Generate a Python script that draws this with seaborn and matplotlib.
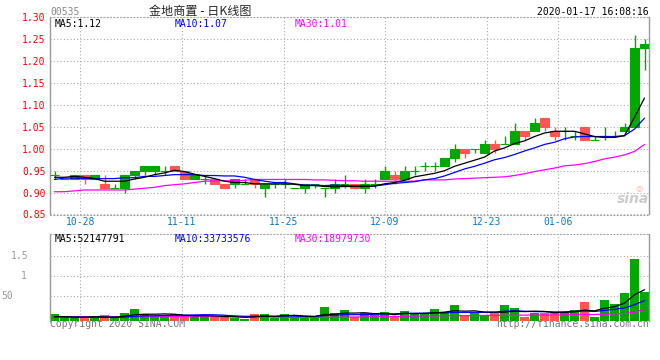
import numpy as np
import pandas as pd
import matplotlib
matplotlib.use('Agg')
import matplotlib.pyplot as plt
import seaborn as sns

# daily K-line, 60 trading days up to 2020-01-17
opens = [0.94, 0.93, 0.93, 0.94, 0.93, 0.92, 0.91, 0.91, 0.94, 0.95,
         0.95, 0.95, 0.96, 0.95, 0.93, 0.93, 0.93, 0.92, 0.92, 0.92,
         0.93, 0.91, 0.92, 0.92, 0.91, 0.91, 0.92, 0.91, 0.91, 0.92,
         0.92, 0.91, 0.92, 0.93, 0.94, 0.93, 0.95, 0.96, 0.96, 0.96,
         0.98, 1.00, 1.00, 0.99, 1.01, 1.01, 1.01, 1.04, 1.04, 1.07,
         1.04, 1.04, 1.03, 1.05, 1.02, 1.03, 1.03, 1.04, 1.05, 1.23]
highs = [0.95, 0.93, 0.94, 0.94, 0.94, 0.94, 0.92, 0.94, 0.95, 0.96,
         0.96, 0.96, 0.96, 0.95, 0.94, 0.94, 0.93, 0.92, 0.93, 0.93,
         0.93, 0.92, 0.92, 0.93, 0.91, 0.92, 0.92, 0.91, 0.93, 0.94,
         0.92, 0.93, 0.93, 0.96, 0.95, 0.96, 0.96, 0.97, 0.97, 0.98,
         1.01, 1.00, 1.00, 1.02, 1.02, 1.03, 1.06, 1.04, 1.07, 1.07,
         1.05, 1.05, 1.04, 1.05, 1.03, 1.05, 1.04, 1.06, 1.26, 1.25]
lows = [0.93, 0.93, 0.93, 0.92, 0.93, 0.91, 0.91, 0.90, 0.93, 0.94,
        0.94, 0.94, 0.95, 0.93, 0.93, 0.92, 0.92, 0.91, 0.91, 0.92,
        0.91, 0.89, 0.91, 0.91, 0.91, 0.90, 0.91, 0.89, 0.90, 0.91,
        0.91, 0.90, 0.91, 0.93, 0.92, 0.93, 0.94, 0.95, 0.95, 0.96,
        0.97, 0.98, 0.99, 0.99, 0.99, 1.01, 1.01, 1.02, 1.04, 1.04,
        1.02, 1.02, 1.02, 1.02, 1.02, 1.02, 1.03, 1.04, 1.05, 1.18]
closes = [0.94, 0.93, 0.94, 0.93, 0.94, 0.91, 0.91, 0.94, 0.95, 0.96,
          0.96, 0.95, 0.95, 0.93, 0.94, 0.93, 0.92, 0.91, 0.93, 0.92,
          0.92, 0.92, 0.92, 0.92, 0.91, 0.92, 0.92, 0.91, 0.92, 0.92,
          0.91, 0.92, 0.92, 0.95, 0.93, 0.95, 0.95, 0.96, 0.96, 0.98,
          1.00, 0.99, 1.00, 1.01, 1.00, 1.01, 1.04, 1.03, 1.06, 1.05,
          1.03, 1.04, 1.03, 1.02, 1.02, 1.03, 1.03, 1.05, 1.23, 1.24]

ma5 = [0.935, 0.935, 0.937, 0.935, 0.932, 0.926, 0.926, 0.926, 0.931, 0.935,
       0.941, 0.945, 0.951, 0.948, 0.942, 0.937, 0.932, 0.926, 0.923, 0.923,
       0.920, 0.920, 0.920, 0.920, 0.919, 0.916, 0.916, 0.914, 0.913, 0.914,
       0.914, 0.914, 0.915, 0.920, 0.923, 0.928, 0.936, 0.940, 0.944, 0.950,
       0.960, 0.967, 0.974, 0.981, 0.995, 1.002, 1.012, 1.018, 1.028, 1.036,
       1.040, 1.040, 1.040, 1.034, 1.028, 1.026, 1.026, 1.030, 1.072, 1.116]
ma10 = [0.930, 0.933, 0.933, 0.932, 0.932, 0.932, 0.932, 0.934, 0.934, 0.937,
        0.937, 0.939, 0.941, 0.941, 0.941, 0.939, 0.939, 0.938, 0.938, 0.935,
        0.930, 0.926, 0.923, 0.923, 0.920, 0.917, 0.917, 0.916, 0.917, 0.916,
        0.915, 0.915, 0.915, 0.918, 0.921, 0.923, 0.925, 0.929, 0.932, 0.938,
        0.946, 0.954, 0.960, 0.967, 0.975, 0.980, 0.987, 0.995, 1.002, 1.010,
        1.015, 1.023, 1.027, 1.028, 1.028, 1.028, 1.028, 1.030, 1.045, 1.070]
ma30 = [0.902, 0.902, 0.904, 0.906, 0.906, 0.906, 0.906, 0.906, 0.908, 0.910,
        0.912, 0.916, 0.918, 0.920, 0.923, 0.926, 0.927, 0.927, 0.927, 0.928,
        0.930, 0.930, 0.930, 0.930, 0.930, 0.930, 0.929, 0.929, 0.928, 0.927,
        0.927, 0.926, 0.926, 0.926, 0.926, 0.926, 0.926, 0.929, 0.929, 0.929,
        0.931, 0.932, 0.933, 0.934, 0.935, 0.936, 0.939, 0.943, 0.948, 0.952,
        0.956, 0.961, 0.963, 0.966, 0.971, 0.977, 0.981, 0.986, 0.994, 1.010]

# volume, millions of shares
volume = [11.3, 6.2, 5.0, 3.9, 6.2, 9.6, 5.0, 12.9, 19.7, 11.3,
          7.9, 7.9, 11.3, 6.7, 9.6, 6.7, 6.7, 6.7, 5.0, 2.9,
          11.3, 11.3, 5.0, 11.3, 6.7, 5.0, 5.0, 23.0, 12.9, 18.0,
          6.2, 12.3, 9.6, 14.6, 8.4, 16.3, 10.6, 11.3, 19.7, 14.6,
          26.4, 9.6, 12.9, 9.6, 12.9, 26.4, 21.3, 6.2, 12.3, 12.3,
          12.3, 14.6, 18.0, 31.4, 6.2, 34.8, 28.1, 46.5, 103.7, 48.2]
vol_ma5 = [6.7, 6.7, 5.9, 5.9, 6.6, 6.2, 5.9, 7.6, 10.1, 10.9,
           10.9, 11.4, 10.9, 9.1, 8.4, 8.4, 7.9, 7.2, 6.7, 5.7,
           6.4, 7.6, 7.1, 8.4, 9.1, 7.9, 7.2, 10.2, 10.8, 12.8,
           12.8, 13.4, 11.8, 12.1, 10.2, 12.3, 11.8, 12.3, 13.3, 14.4,
           16.8, 16.0, 16.6, 14.6, 14.3, 14.3, 16.0, 15.3, 16.0, 15.6,
           13.4, 14.1, 15.0, 17.8, 16.5, 21.0, 23.5, 29.4, 43.7, 52.1]
vol_ma10 = [6.7, 6.7, 6.2, 5.9, 5.9, 5.7, 5.7, 6.0, 7.2, 8.1,
            8.4, 8.7, 9.2, 9.2, 9.7, 10.1, 9.9, 9.2, 8.1, 7.4,
            7.6, 7.7, 7.4, 7.9, 7.6, 7.1, 6.9, 8.7, 9.1, 10.1,
            10.1, 10.2, 10.8, 11.3, 11.6, 12.3, 12.6, 12.6, 12.8, 12.9,
            13.9, 13.9, 14.1, 13.9, 14.3, 16.0, 16.6, 15.8, 15.3, 15.1,
            14.8, 14.8, 15.8, 16.3, 15.5, 17.3, 19.2, 21.2, 27.0, 33.7]
vol_ma30 = [6.7, 6.7, 6.7, 6.7, 6.7, 6.7, 6.7, 6.7, 6.7, 6.7,
            6.7, 6.7, 6.9, 6.9, 6.9, 6.9, 6.9, 6.7, 6.7, 6.7,
            6.4, 6.2, 6.0, 5.9, 5.9, 5.7, 5.7, 5.7, 5.9, 6.0,
            6.2, 6.4, 6.7, 6.9, 7.2, 7.4, 7.7, 7.9, 8.1, 8.4,
            8.4, 8.6, 8.6, 8.9, 8.9, 9.2, 9.2, 9.4, 9.6, 9.6,
            9.6, 9.9, 10.1, 10.4, 10.4, 10.9, 11.4, 12.1, 14.3, 19.0]

date_idx = [3, 13, 23, 33, 43, 50]
date_labels = ['10-28', '11-11', '11-25', '12-09', '12-23', '01-06']
price_ticks = [0.85, 0.90, 0.95, 1.00, 1.05, 1.10, 1.15, 1.20, 1.25, 1.30]
vol_ticks = [42.0, 75.6, 109.2]
vol_tick_labels = ['50', '1', '1.5']

GREEN = '#00A800'
RED = '#FF5555'
GRID = '#aaaaaa'
DOT = (0, (1, 2))

df = pd.DataFrame({'i': np.arange(len(closes)), 'open': opens, 'high': highs,
                   'low': lows, 'close': closes, 'vol': volume})
df['dir'] = np.where(df['close'] >= df['open'], 'up', 'down')
df['color'] = np.where(df['dir'] == 'up', GREEN, RED)

sns.set_style('white')
plt.rcParams['font.family'] = ['DejaVu Sans Mono', 'Noto Sans CJK SC']

W, H = 660, 360
fig = plt.figure(figsize=(W / 100, H / 100), dpi=100)


def box(x0, y0, x1, y1):
    return [x0 / W, 1 - y1 / H, (x1 - x0) / W, (y1 - y0) / H]


def ftext(x, y, s, **kw):
    kw.setdefault('va', 'center')
    kw.setdefault('fontsize', 7)
    fig.text(x / W, 1 - y / H, s, **kw)


ax = fig.add_axes(box(50, 17.4, 649, 214.5))
axv = fig.add_axes(box(50, 234.3, 649, 320.7))

# candles
ax.vlines(df['i'], df['low'], df['high'], colors=df['color'], linewidth=1, zorder=2)
ax.bar(df['i'], df['close'] - df['open'], bottom=df['open'], width=0.9,
       color=df['color'], edgecolor=df['color'], linewidth=0.8, zorder=3)

sns.lineplot(x=df['i'], y=ma30, color='#FF00FF', linewidth=0.9, ax=ax, zorder=4)
sns.lineplot(x=df['i'], y=ma10, color='#0000FF', linewidth=0.9, ax=ax, zorder=4)
sns.lineplot(x=df['i'], y=ma5, color='black', linewidth=0.9, ax=ax, zorder=5)

# volume
sns.barplot(data=df, x='i', y='vol', hue='dir', palette={'up': GREEN, 'down': RED},
            dodge=False, width=0.9, saturation=1, legend=False, native_scale=True,
            errorbar=None, linewidth=0, ax=axv, zorder=2)
sns.lineplot(x=df['i'], y=vol_ma30, color='#FF00FF', linewidth=0.9, ax=axv, zorder=4)
sns.lineplot(x=df['i'], y=vol_ma10, color='#0000FF', linewidth=0.9, ax=axv, zorder=4)
sns.lineplot(x=df['i'], y=vol_ma5, color='black', linewidth=0.9, ax=axv, zorder=5)

# date gridlines sit on a slightly wider scale than the bars
grid_pos = [i * 59.9 / 59 - 0.45 for i in date_idx]

for a in (ax, axv):
    a.set_xlim(-0.45, 59.45)
    a.set_xlabel('')
    a.set_ylabel('')
    a.grid(True, color=GRID, linestyle=DOT, linewidth=0.8)
    a.set_axisbelow(True)
    for s in ('left', 'right'):
        a.spines[s].set_color('#999999')
        a.spines[s].set_linewidth(1)
    a.spines['top'].set_color(GRID)
    a.spines['top'].set_linestyle(DOT)
    a.spines['top'].set_linewidth(0.8)

ax.spines['bottom'].set_color(GRID)
ax.spines['bottom'].set_linestyle(DOT)
ax.spines['bottom'].set_linewidth(0.8)
axv.spines['bottom'].set_visible(False)

ax.set_ylim(0.85, 1.30)
ax.set_yticks(price_ticks, [f'{v:.2f}' for v in price_ticks])
ax.set_xticks(grid_pos, date_labels)
ax.tick_params(axis='y', length=0, pad=3, labelcolor='red', labelsize=7)
ax.tick_params(axis='x', length=0, pad=2, labelcolor='#0A78C8', labelsize=7)

axv.set_ylim(0, 145.2)
axv.set_yticks(vol_ticks, [''] * len(vol_ticks))
axv.set_xticks(grid_pos, [''] * len(grid_pos))
axv.tick_params(length=0)

# header texts
ftext(50, 12, '00535', color='#888888', ha='left')
ftext(200, 12, '金地商置 - 日K线图', family=['Noto Sans CJK SC', 'DejaVu Sans'],
      fontsize=8.7, ha='center')
ftext(649, 12, '2020-01-17 16:08:16', ha='right', color='black')

ftext(55, 24, 'MA5:1.12', color='black', ha='left')
ftext(175, 24, 'MA10:1.07', color='#0000FF', ha='left')
ftext(295, 24, 'MA30:1.01', color='#FF00FF', ha='left')

ftext(55, 238.5, 'MA5:52147791', color='black', ha='left')
ftext(175, 238.5, 'MA10:33733576', color='#0000FF', ha='left')
ftext(295, 238.5, 'MA30:18979730', color='#FF00FF', ha='left')

for v, lab, xr in zip(vol_ticks, vol_tick_labels, [13, 27, 28]):
    ypix = 320.7 - v / 145.2 * (320.7 - 234.3)
    ftext(xr, ypix, lab, color='#999999', ha='right')

ftext(50, 324, 'Copyright 2020 SINA.COM', color='#777777', ha='left')
ftext(649, 324, 'http://finance.sina.com.cn', color='#777777', ha='right')

# sina watermark
ftext(633, 199, 'sina', family='DejaVu Sans', style='italic', weight='bold',
      color='#cccccc', fontsize=10, ha='center')
ftext(639, 188, '◎', family='DejaVu Sans', color='#f2b5b5', fontsize=6, ha='center')

fig.savefig('out.png', dpi=100)
